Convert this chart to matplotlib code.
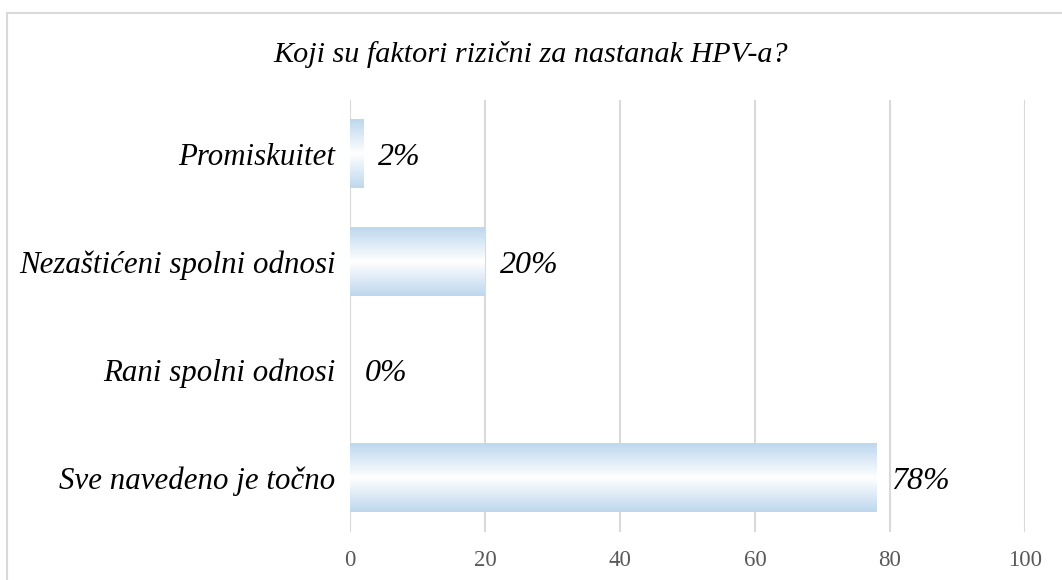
import matplotlib
matplotlib.use("Agg")
import matplotlib.pyplot as plt
import matplotlib.patches as mpatches
import numpy as np
from matplotlib.colors import LinearSegmentedColormap

title = "Koji su faktori rizični za nastanak HPV-a?"
categories = ["Sve navedeno je točno", "Rani spolni odnosi", "Nezaštićeni spolni odnosi", "Promiskuitet"]
values = [78, 0, 20, 2]
labels = ["78%", "0%", "20%", "2%"]
xticks = [0, 20, 40, 60, 80, 100]

plt.rcParams['font.family'] = ['Liberation Serif', 'DejaVu Serif']

fig = plt.figure(figsize=(10.62, 5.8), dpi=100)
ax = fig.add_axes([350/1062, 1-532/580, 675/1062, 432/580])

# figure border
fig.patches.append(mpatches.Rectangle((7/1062, -0.1), 1.2, 1-13/580+0.1,
                                      transform=fig.transFigure, fill=False,
                                      edgecolor='#D9D9D9', linewidth=1.5, zorder=0))

cmap = LinearSegmentedColormap.from_list('g', ['#BDD7EE', '#FFFFFF', '#BDD7EE'])
grad = np.linspace(0, 1, 256).reshape(-1, 1)
h = 0.63
y = np.arange(len(categories))
for yi, v in zip(y, values):
    if v > 0:
        ax.imshow(grad, extent=(0, v, yi - h/2, yi + h/2), aspect='auto',
                  cmap=cmap, origin='lower', zorder=2, interpolation='bilinear')
bars = ax.barh(y, values, height=h, color='none', edgecolor='none', zorder=3)
for yi, v, lab in zip(y, values, labels):
    ax.text(v + 2.2, yi, lab, va='center_baseline', ha='left', fontsize=23, style='italic', color='#000000')

ax.set_xlim(0, 100)
ax.set_ylim(-0.5, len(categories) - 0.5)
ax.set_xticks(xticks)
ax.set_xticklabels([str(t) for t in xticks], fontsize=16.5, color='#595959')
ax.set_yticks(y)
ax.set_yticklabels(categories, fontsize=22.2, style='italic')
ax.tick_params(axis='both', length=0)
ax.tick_params(axis='x', pad=13)
ax.tick_params(axis='y', pad=10.5)
ax.grid(axis='x', color='#D9D9D9', linewidth=1.5, zorder=0)
ax.set_axisbelow(True)
for s in ax.spines.values():
    s.set_visible(False)

fig.text(531/1062, 1-55/580, title, ha='center', va='center', fontsize=21.7, style='italic')

fig.savefig('out.png', dpi=100)
